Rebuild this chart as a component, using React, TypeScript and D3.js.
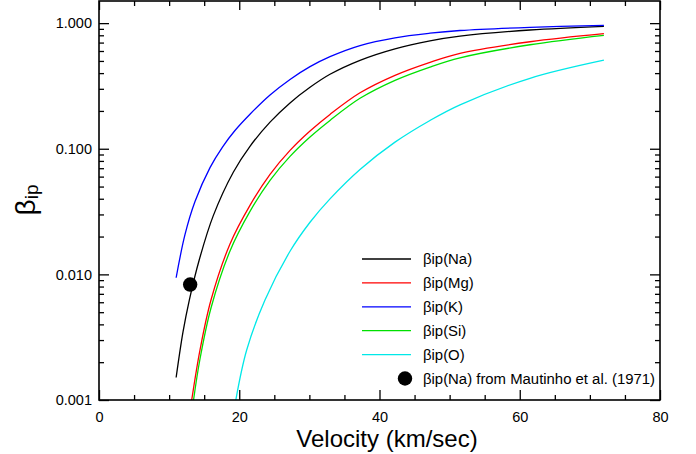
import * as d3 from "d3";
import { useEffect, useRef } from "react";

// velocity (km/sec) and ionization probability
const velocityNa = [11.0, 11.98, 12.88, 14.29, 16.3, 19.15, 21.53, 24.39, 27.24, 30.09, 32.94, 37.22, 42.21, 47.2, 51.48, 61.46, 72.0];
const betaNa = [0.00151, 0.00348, 0.00625, 0.01302, 0.02936, 0.06505, 0.1046, 0.1629, 0.2317, 0.3084, 0.3914, 0.5058, 0.6245, 0.7218, 0.7865, 0.8814, 0.9432];

const velocityMg = [13.22, 14.4, 15.97, 18.68, 21.53, 24.39, 27.24, 30.09, 32.94, 37.22, 42.21, 47.2, 51.48, 61.46, 72.0];
const betaMg = [0.001, 0.0025, 0.00625, 0.01745, 0.0354, 0.0625, 0.097, 0.1384, 0.1876, 0.2788, 0.3842, 0.4877, 0.5749, 0.7106, 0.8243];

const velocityK = [11.0, 12.26, 13.69, 15.83, 17.61, 19.39, 21.53, 24.39, 27.24, 30.09, 32.94, 37.22, 42.21, 47.2, 51.48, 61.46, 72.0];
const betaK = [0.0094, 0.0207, 0.038, 0.0708, 0.1032, 0.1397, 0.1883, 0.2678, 0.3563, 0.4506, 0.5413, 0.6635, 0.7641, 0.8312, 0.8733, 0.926, 0.9607];

const velocitySi = [13.48, 14.4, 15.97, 18.68, 21.53, 24.39, 27.24, 30.09, 32.94, 37.22, 42.21, 47.2, 51.48, 61.46, 72.0];
const betaSi = [0.001, 0.00212, 0.0054, 0.01535, 0.0317, 0.056, 0.0869, 0.124, 0.1681, 0.2521, 0.3505, 0.4473, 0.5294, 0.6726, 0.7991];

const velocityO = [19.51, 21.06, 23.67, 27.24, 30.09, 32.94, 37.22, 42.21, 47.2, 51.48, 61.46, 72.0];
const betaO = [0.001, 0.0025, 0.00625, 0.01528, 0.026, 0.0399, 0.0684, 0.1129, 0.168, 0.2236, 0.364, 0.5072];

// Mautinho et al. (1971) measurement
const mautinhoVelocity = [13.0];
const mautinhoBeta = [0.0083];

const xTicks = [0, 20, 40, 60, 80];
const yTicks = [0.001, 0.01, 0.1, 1];

const series = [
  { label: "βip(Na)", v: velocityNa, b: betaNa, color: "#000000" },
  { label: "βip(Mg)", v: velocityMg, b: betaMg, color: "#ff0000" },
  { label: "βip(K)", v: velocityK, b: betaK, color: "#0000ff" },
  { label: "βip(Si)", v: velocitySi, b: betaSi, color: "#00e000" },
  { label: "βip(O)", v: velocityO, b: betaO, color: "#00e8e8" },
];

const font = "'Liberation Sans', Arial, sans-serif";

export default function App() {
  const ref = useRef<SVGSVGElement | null>(null);

  useEffect(() => {
    const svg = d3.select(ref.current);
    svg.selectAll("*").remove();

    const width = 696;
    const height = 454;
    const margin = { top: 1, right: 36, bottom: 54, left: 99 };

    const x = d3
      .scaleLinear()
      .domain([0, 80])
      .range([margin.left, width - margin.right]);
    const y = d3
      .scaleLog()
      .domain([0.001, 1.5])
      .range([height - margin.bottom, margin.top]);

    svg
      .append("clipPath")
      .attr("id", "plot-clip")
      .append("rect")
      .attr("x", margin.left)
      .attr("y", margin.top)
      .attr("width", width - margin.left - margin.right)
      .attr("height", height - margin.top - margin.bottom);

    const line = d3
      .line<[number, number]>()
      .x((d) => x(d[0]))
      .y((d) => y(d[1]))
      .curve(d3.curveCatmullRom.alpha(0.5));

    const curves = svg.append("g").attr("clip-path", "url(#plot-clip)");
    series.forEach((s) => {
      const pts = s.v.map((v, i) => [v, s.b[i]] as [number, number]);
      curves
        .append("path")
        .attr("d", line(pts))
        .attr("fill", "none")
        .attr("stroke", s.color)
        .attr("stroke-width", 1.3);
    });

    curves
      .selectAll("circle.obs")
      .data(mautinhoVelocity.map((v, i) => [v, mautinhoBeta[i]]))
      .enter()
      .append("circle")
      .attr("class", "obs")
      .attr("cx", (d) => x(d[0]))
      .attr("cy", (d) => y(d[1]))
      .attr("r", 7.2)
      .attr("fill", "#000");

    // axes: ticks inside on all four sides
    const xMinor = d3.range(5, 80, 5).filter((v) => v % 20 !== 0);
    const yMinor = yTicks
      .flatMap((d) => d3.range(2, 10).map((m) => d * m))
      .filter((v) => v < 1.5);
    const x0 = margin.left;
    const x1 = width - margin.right;
    const y0 = height - margin.bottom;
    const y1 = margin.top;

    const styleAxis = (g: d3.Selection<SVGGElement, unknown, null, undefined>) => {
      g.select(".domain").remove();
      g.attr("font-family", font).attr("font-size", 14.5);
      g.selectAll(".tick line").attr("stroke", "#000").attr("stroke-width", 1.3);
      g.selectAll(".tick text").attr("fill", "#000");
    };

    const axes = svg.append("g");
    const noLabel = () => "";

    axes
      .append("g")
      .attr("transform", `translate(0,${y0})`)
      .call(d3.axisBottom(x).tickValues(xTicks).tickSize(-10).tickPadding(12).tickFormat(d3.format("d")))
      .call(styleAxis);
    axes
      .append("g")
      .attr("transform", `translate(0,${y0})`)
      .call(d3.axisBottom(x).tickValues(xMinor).tickSize(-5).tickFormat(noLabel))
      .call(styleAxis);
    axes
      .append("g")
      .attr("transform", `translate(0,${y1})`)
      .call(d3.axisTop(x).tickValues(xTicks).tickSize(-9).tickFormat(noLabel))
      .call(styleAxis);
    axes
      .append("g")
      .attr("transform", `translate(0,${y1})`)
      .call(d3.axisTop(x).tickValues(xMinor).tickSize(-5).tickFormat(noLabel))
      .call(styleAxis);

    axes
      .append("g")
      .attr("transform", `translate(${x0},0)`)
      .call(d3.axisLeft(y).tickValues(yTicks).tickSize(-10).tickPadding(7).tickFormat(d3.format(".3f")))
      .call(styleAxis);
    axes
      .append("g")
      .attr("transform", `translate(${x0},0)`)
      .call(d3.axisLeft(y).tickValues(yMinor).tickSize(-5).tickFormat(noLabel))
      .call(styleAxis);
    axes
      .append("g")
      .attr("transform", `translate(${x1},0)`)
      .call(d3.axisRight(y).tickValues(yTicks).tickSize(-10).tickFormat(noLabel))
      .call(styleAxis);
    axes
      .append("g")
      .attr("transform", `translate(${x1},0)`)
      .call(d3.axisRight(y).tickValues(yMinor).tickSize(-5).tickFormat(noLabel))
      .call(styleAxis);

    svg
      .append("rect")
      .attr("x", x0)
      .attr("y", y1)
      .attr("width", x1 - x0)
      .attr("height", y0 - y1)
      .attr("fill", "none")
      .attr("stroke", "#000")
      .attr("stroke-width", 1.6);

    // axis titles
    svg
      .append("text")
      .attr("x", 387)
      .attr("y", 447)
      .attr("text-anchor", "middle")
      .attr("font-family", font)
      .attr("font-size", 24)
      .text("Velocity (km/sec)");

    const yTitle = svg
      .append("text")
      .attr("transform", "translate(35,200) rotate(-90)")
      .attr("text-anchor", "middle")
      .attr("font-family", font);
    yTitle.append("tspan").attr("font-size", 28).text("β");
    yTitle.append("tspan").attr("font-size", 19).attr("dy", 3).text("ip");

    // legend
    const legend = svg.append("g").attr("font-family", font).attr("font-size", 14.9);
    const rowY = (i: number) => 259 + i * 23.9;
    series.forEach((s, i) => {
      legend
        .append("line")
        .attr("x1", 362)
        .attr("x2", 411)
        .attr("y1", rowY(i))
        .attr("y2", rowY(i))
        .attr("stroke", s.color)
        .attr("stroke-width", 1.3);
      legend
        .append("text")
        .attr("x", 423)
        .attr("y", rowY(i))
        .attr("dy", "0.35em")
        .text(s.label);
    });
    legend
      .append("circle")
      .attr("cx", 405)
      .attr("cy", rowY(series.length))
      .attr("r", 7.2)
      .attr("fill", "#000");
    legend
      .append("text")
      .attr("x", 423)
      .attr("y", rowY(series.length))
      .attr("dy", "0.35em")
      .text("βip(Na) from Mautinho et al. (1971)");
  }, []);

  return (
    <svg
      ref={ref}
      width={696}
      height={454}
      style={{ position: "absolute", left: 0, top: 0, background: "#fff" }}
    ></svg>
  );
}
